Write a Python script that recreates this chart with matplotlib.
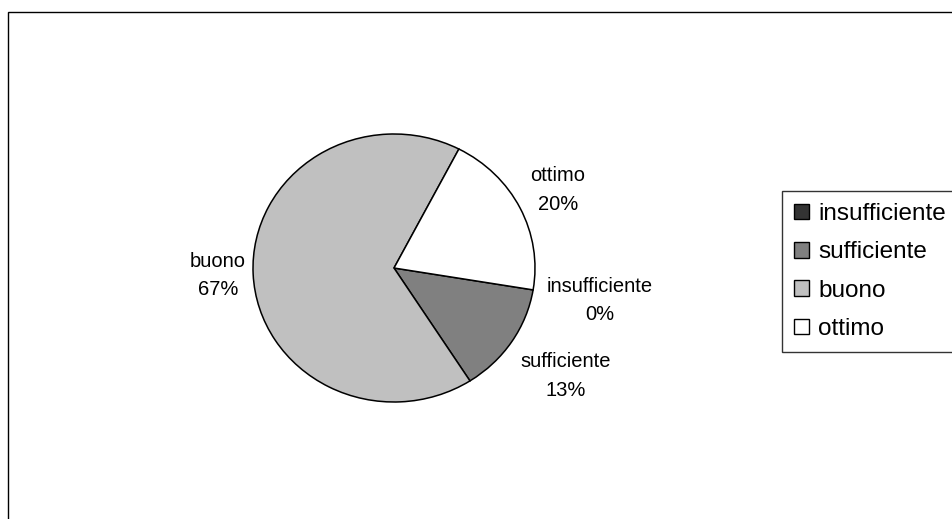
import matplotlib
matplotlib.use('Agg')
import matplotlib.pyplot as plt
import matplotlib.patches as mpatches
import numpy as np

categories = ['insufficiente', 'sufficiente', 'buono', 'ottimo']
counts = [0, 2, 10, 3]
colors = ['#333333', '#808080', '#c0c0c0', '#ffffff']
label_dist = [1.48, 1.46, 1.25, 1.30]

plt.rcParams['font.family'] = ['Liberation Sans', 'DejaVu Sans']

W, H = 953, 519
fig = plt.figure(figsize=(W / 100, H / 100), dpi=100)

# chart area border (right and bottom edges fall outside the picture)
fig.patches.append(mpatches.Rectangle((8 / W, -0.1), 1.2, 1 - 12 / H + 0.1,
                                      transform=fig.transFigure, fill=False,
                                      edgecolor='black', linewidth=1.0))

# pie axes, slightly wider than tall like the original
cx, cy, rx, ry = 394, 268, 141, 134
lim = 1.6
ax = fig.add_axes([(cx - lim * rx) / W, 1 - (cy + lim * ry) / H,
                   2 * lim * rx / W, 2 * lim * ry / H])

wedges, _ = ax.pie(counts, colors=colors, startangle=-9.4, counterclock=False,
                   wedgeprops=dict(edgecolor='black', linewidth=1.1))
ax.set_aspect('auto')
ax.set_xlim(-lim, lim)
ax.set_ylim(-lim, lim)
ax.axis('off')

total = sum(counts)
for w, name, c, d in zip(wedges, categories, counts, label_dist):
    mid = np.deg2rad((w.theta1 + w.theta2) / 2)
    pct = '%d%%' % round(100 * c / total)
    ax.text(d * np.cos(mid), d * np.sin(mid), name + '\n' + pct,
            ha='center', va='center', multialignment='center',
            fontsize=14.5, linespacing=1.65)

leg = fig.legend(wedges, categories, loc='upper left',
                 bbox_to_anchor=(782 / W, 1 - 191 / H), borderaxespad=0,
                 fontsize=17.5, frameon=True, fancybox=False, edgecolor='black',
                 handlelength=0.62, handleheight=0.62, handletextpad=0.36,
                 labelspacing=0.67, borderpad=0.5)
leg.get_frame().set_linewidth(1.0)
for h in leg.legend_handles:
    h.set_linewidth(1.0)

fig.savefig('out.png', dpi=100)
